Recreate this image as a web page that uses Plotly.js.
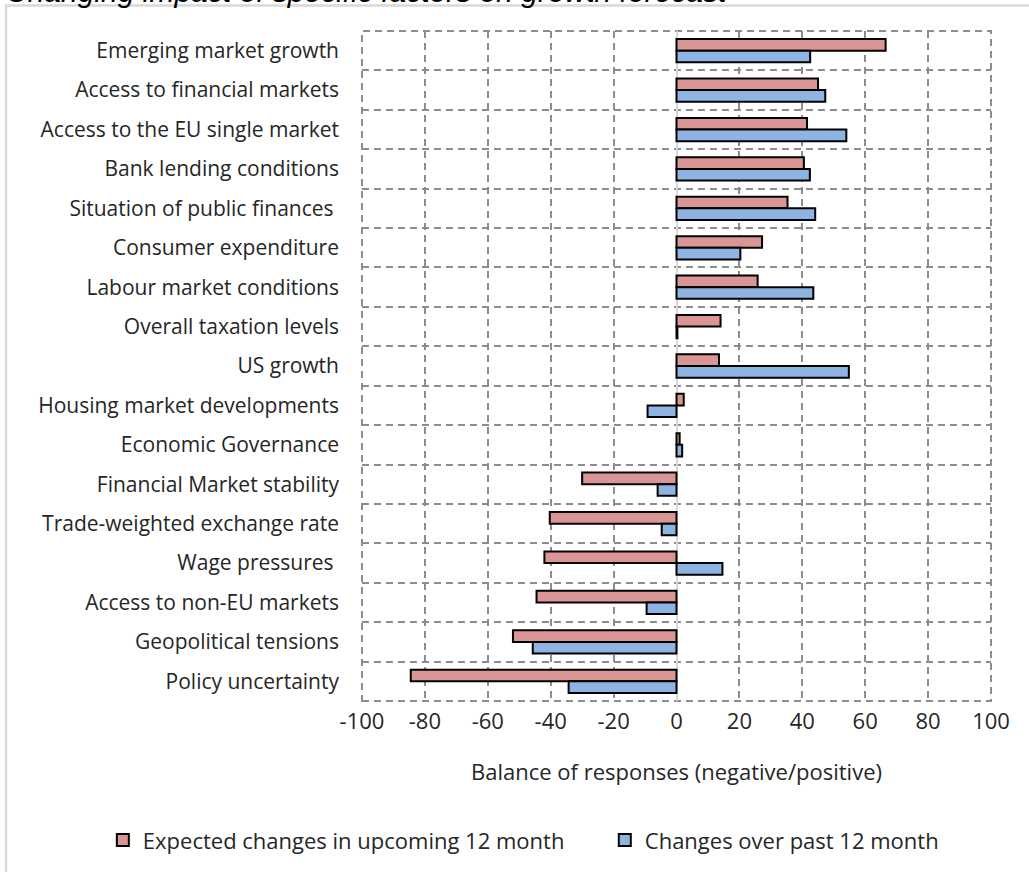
<!DOCTYPE html>
<html>
<head>
<meta charset="utf-8">
<script src="https://cdn.plot.ly/plotly-3.0.1.min.js"></script>
<style>
  body { margin: 0; background: #ffffff; }
  #chart { width: 1029px; height: 872px; }
</style>
</head>
<body>
<div id="chart"></div>
<script>
////////// data
var factors = [
  "Emerging market growth",
  "Access to financial markets",
  "Access to the EU single market",
  "Bank lending conditions",
  "Situation of public finances ",
  "Consumer expenditure",
  "Labour market conditions",
  "Overall taxation levels",
  "US growth",
  "Housing market developments",
  "Economic Governance",
  "Financial Market stability",
  "Trade-weighted exchange rate",
  "Wage pressures ",
  "Access to non-EU markets",
  "Geopolitical tensions",
  "Policy uncertainty"
]
var expected = [66.5, 45, 41.5, 40.5, 35.3, 27.2, 25.8, 14, 13.5, 2.3, 1, -30, -40.3, -42, -44.5, -52, -84.5]
var past = [42.5, 47.3, 54, 42.4, 44.1, 20.3, 43.5, 0.3, 54.8, -9.2, 1.8, -6, -4.7, 14.6, -9.5, -45.7, -34.3]
var seriesNames = ["Expected changes in upcoming 12 month", "Changes over past 12 month"]
var xTicks = [-100, -80, -60, -40, -20, 0, 20, 40, 60, 80, 100]

var txt = "#262626"
var fam = "'Open Sans', Lato, sans-serif"
var gridDash = '7px,5px'

////////// traces
var data = [{
    y: factors,
    x: expected,
    name: seriesNames[0],
    type: 'bar',
    orientation: 'h',
    legend: 'legend',
    marker: {color: '#da9694', line: {color: '#000000', width: 2}}
  }, {
    y: factors,
    x: past,
    name: seriesNames[1],
    type: 'bar',
    orientation: 'h',
    legend: 'legend2',
    marker: {color: '#8db4e2', line: {color: '#000000', width: 2}}
}]

////////// layout
var layout = {
  width: 1029,
  height: 872,
  margin: {l: 362, r: 38, t: 31, b: 170},
  paper_bgcolor: '#ffffff',
  plot_bgcolor: '#ffffff',
  font: {family: fam, size: 21, color: txt},
  barmode: 'group',
  bargap: 0.41,
  bargroupgap: 0,
  xaxis: {
    range: [-100, 100],
    tickvals: xTicks,
    ticktext: xTicks.map(String),
    tickfont: {size: 22, color: txt},
    showgrid: true,
    gridcolor: '#8c8c8c',
    gridwidth: 2,
    griddash: gridDash,
    zeroline: true,
    zerolinecolor: '#d9d9d9',
    zerolinewidth: 2,
    showline: false,
    ticks: '',
    ticklabelstandoff: 5,
    title: {text: 'Balance of responses (negative/positive)', font: {size: 22, color: txt}, standoff: 30}
  },
  yaxis: {
    type: 'category',
    autorange: 'reversed',
    tickson: 'boundaries',
    showgrid: true,
    gridcolor: '#8c8c8c',
    gridwidth: 2,
    griddash: gridDash,
    ticks: '',
    ticklabelstandoff: 22,
    tickfont: {size: 21, color: txt},
    showline: false,
    zeroline: false
  },
  showlegend: true,
  legend: {
    orientation: 'h',
    x: -0.412, xanchor: 'left',
    y: -0.206, yanchor: 'middle',
    font: {size: 22, color: txt},
    bgcolor: 'rgba(0,0,0,0)'
  },
  legend2: {
    orientation: 'h',
    x: 0.386, xanchor: 'left',
    y: -0.206, yanchor: 'middle',
    font: {size: 22, color: txt},
    bgcolor: 'rgba(0,0,0,0)'
  },
  shapes: [
    // outer light frame
    {type: 'rect', xref: 'paper', yref: 'paper', x0: -0.566, x1: 1.08, y0: -0.3, y1: 1.038,
     line: {color: '#d9d9d9', width: 2.5}, layer: 'below'},
    // dashed plot box
    {type: 'rect', xref: 'paper', yref: 'paper', x0: 0, x1: 1, y0: 0, y1: 1,
     line: {color: '#8c8c8c', width: 2, dash: gridDash}, layer: 'below'}
  ],
  annotations: [{
    text: '<i>Changing impact of specific factors on growth forecast</i>',
    xref: 'paper', yref: 'paper',
    x: -0.569, xanchor: 'left',
    y: 1.0596, yanchor: 'middle',
    showarrow: false,
    font: {family: 'Liberation Sans, Arial, sans-serif', size: 30, color: '#000000'}
  }]
}

///////////////// Plot the diagram
Plotly.newPlot('chart', data, layout, {displayModeBar: false, staticPlot: true})
</script>
</body>
</html>
